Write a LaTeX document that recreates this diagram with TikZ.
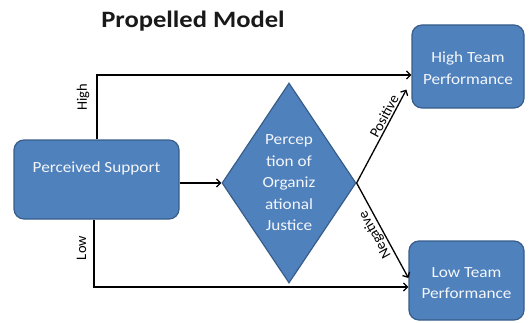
\documentclass[tikz,border=0pt]{standalone}
\usepackage{fontspec}
\setmainfont{Carlito}
\usetikzlibrary{shapes.geometric,arrows.meta,calc}
\definecolor{boxfill}{HTML}{4F81BD}
\definecolor{boxline}{HTML}{385D8A}
\definecolor{boxtext}{HTML}{F4F6FA}
\begin{document}
\begin{tikzpicture}[x=1pt,y=1pt,
  box/.style={draw=boxline, fill=boxfill, line width=1.2pt, rounded corners=10pt, inner sep=0pt},
  dia/.style={diamond, draw=boxline, fill=boxfill, line width=1.2pt, inner sep=0pt},
  txt/.style={text=boxtext, font=\fontsize{15.5}{21.5}\selectfont, align=center, xscale=1.11, inner sep=0pt},
  lbl/.style={font=\fontsize{14.5}{16}\selectfont, inner sep=1.5pt},
  arr/.style={draw=black, line width=1.3pt, -{Straight Barb[length=4pt,width=8pt]}}]
\useasboundingbox (0,0) rectangle (529,322);
\node[font=\fontsize{23.5}{28}\selectfont\bfseries, xscale=1.13, anchor=base, text=black!90] (title) at (193,294) {Propelled Model};
\node[box, minimum width=165pt, minimum height=79pt] (ps) at (96.5,142.5) {};
\node[txt] (pst) at (96.5,154) {Perceived Support};
\node[dia, minimum width=134pt, minimum height=200pt] (dj) at (289,139) {};
\node[txt] (djt) at (289,139) {Percep\\tion of\\Organiz\\ational\\Justice};
\node[box, minimum width=112pt, minimum height=83pt] (htp) at (468,255.5) {};
\node[txt] (htpt) at (468,254) {High Team\\Performance};
\node[box, minimum width=115pt, minimum height=79pt] (ltp) at (466.5,41.5) {};
\node[txt] (ltpt) at (466.5,39) {Low Team\\Performance};
\draw[arr] ([xshift=0.5pt]ps.north) |- ([yshift=-8.5pt]htp.west);
\draw[arr] ([xshift=-2.5pt]ps.south) |- ([yshift=-6.5pt]ltp.west);
\draw[arr] (ps.east |- dj.west) -- (dj.west);
\draw[arr] (dj.east) -- ([xshift=-5pt,yshift=19pt]htp.south west)
  node[pos=0.68, rotate=61.5, lbl, anchor=south] (pos) {Positive};
\draw[arr] (dj.east) -- ([yshift=2.5pt]ltp.west)
  node[pos=0.5, rotate=119.2, lbl, anchor=south] (neg) {Negative};
\node[rotate=90, lbl] (hl) at (83,225) {High};
\node[rotate=90, lbl] (ll) at (81.5,74) {Low};
\end{tikzpicture}
\end{document}
